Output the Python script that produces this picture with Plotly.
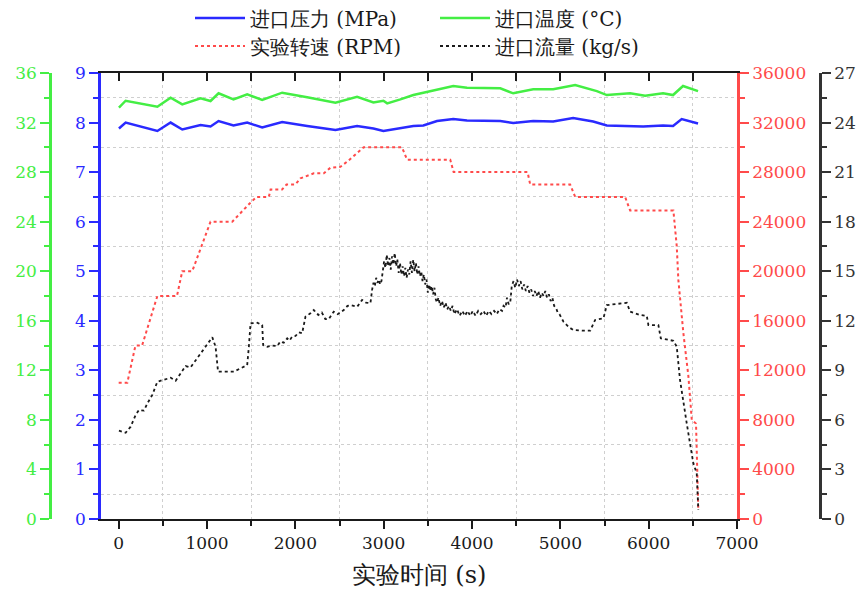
import plotly.graph_objects as go

# ---------------- data ----------------
t_pressure = [3, 79, 438, 588, 720, 927, 1040, 1131, 1300, 1455, 1625, 1851, 2134, 2454, 2699, 2884,
              2997, 3189, 3336, 3449, 3604, 3788, 3943, 4320, 4467, 4693, 4919, 5145, 5372, 5526,
              5752, 5937, 6163, 6276, 6374, 6468, 6559]
pressure = [7.88, 8.00, 7.83, 8.00, 7.86, 7.95, 7.92, 8.03, 7.94, 8.00, 7.90, 8.01, 7.93, 7.85, 7.93, 7.88,
            7.83, 7.88, 7.93, 7.94, 8.03, 8.07, 8.04, 8.03, 7.99, 8.03, 8.02, 8.09, 8.02, 7.94,
            7.93, 7.92, 7.94, 7.93, 8.07, 8.03, 7.98]

t_temp = [3, 79, 438, 588, 720, 927, 1040, 1131, 1300, 1455, 1625, 1851, 2134, 2454, 2699, 2884,
          2997, 3040, 3189, 3336, 3449, 3604, 3788, 3943, 4320, 4467, 4693, 4919, 5168, 5413,
          5526, 5790, 5960, 6163, 6276, 6389, 6559]
temperature = [33.2, 33.76, 33.28, 34.0, 33.47, 33.95, 33.74, 34.36, 33.87, 34.28, 33.82, 34.41, 34.04,
               33.6, 34.08, 33.63, 33.76, 33.55, 33.87, 34.22, 34.41, 34.68, 34.95, 34.81, 34.76, 34.36,
               34.68, 34.68, 35.03, 34.54, 34.22, 34.36, 34.17, 34.36, 34.22, 34.95, 34.54]

t_rpm = [0, 98, 190, 265, 438, 660, 720, 833, 1040, 1286, 1474, 1560, 1700, 1720, 1850, 1900, 2000,
         2058, 2209, 2322, 2397, 2510, 2586, 2774, 3208, 3265, 3754, 3792, 4629, 4659, 5111, 5168,
         5733, 5790, 6280, 6318, 6336, 6393, 6450, 6488, 6536, 6544, 6562]
rpm = [11000, 11000, 14000, 14000, 18000, 18000, 20000, 20000, 24000, 24000, 25400, 26000, 26000,
       26600, 26600, 27000, 27000, 27500, 27900, 27900, 28350, 28430, 28840, 30000, 30000, 29000,
       29000, 28000, 28000, 27000, 27000, 26000, 26000, 24900, 24900, 22000, 19300, 15000, 11500,
       8000, 7700, 5300, 700]

t_flow = [3, 79, 136, 192, 230, 286, 325, 381, 438, 512, 588, 645, 701, 758, 814, 871, 927, 984,
          1060, 1097, 1116, 1125, 1191, 1304, 1380, 1455, 1474, 1493, 1568, 1625, 1636, 1682, 1740,
          1795, 1830, 1869, 1908, 1935, 1964, 2002, 2040, 2077, 2115, 2171, 2209, 2260, 2300, 2340,
          2378, 2435, 2480, 2548, 2590, 2624, 2700, 2756, 2800, 2850,
          2870, 2885, 2900, 2915, 2930, 2945, 2960, 2975, 2990, 3005, 3020, 3035, 3050, 3065, 3080,
          3095, 3110, 3125, 3140, 3155, 3170, 3185, 3200, 3215, 3230, 3245, 3260, 3275, 3290, 3305,
          3320, 3335, 3350, 3365, 3380, 3395, 3410, 3425, 3440, 3455, 3470, 3485, 3500, 3515, 3530,
          3545, 3560, 3575, 3590, 3605, 3620, 3640, 3660, 3680, 3700, 3720, 3740, 3760, 3780, 3800,
          3830, 3860, 3890, 3920, 3950, 3980, 4010, 4040, 4070, 4100, 4130, 4160, 4190, 4220, 4250,
          4280, 4310, 4340, 4357, 4380, 4396, 4415, 4433, 4450, 4470, 4490, 4510, 4530, 4550, 4570,
          4590, 4610, 4630, 4650, 4670, 4690, 4710, 4730, 4750, 4770, 4790, 4810, 4830, 4850, 4870,
          4890, 4910, 4930, 4950, 4970, 4990, 5036, 5100, 5149, 5250, 5338, 5394, 5488, 5526, 5639,
          5752, 5790, 5903, 5979, 5997, 6110, 6137, 6280, 6318, 6355, 6393, 6431, 6468, 6506, 6544,
          6556, 6562]
flow = [5.35, 5.22, 5.59, 6.30, 6.60, 6.56, 7.00, 7.51, 8.31, 8.41, 8.55, 8.37, 8.82, 9.26, 9.18, 9.62,
        10.03, 10.43, 11.0, 10.43, 9.62, 8.92, 8.92, 8.92, 9.12, 9.32, 10.43, 11.85, 11.88, 11.74,
        10.53, 10.43, 10.50, 10.47, 10.75, 10.67, 10.94, 10.80, 11.04, 11.08, 11.30, 11.24, 12.25,
        12.45, 12.65, 12.35, 12.50, 12.10, 12.09, 12.55, 12.40, 12.65, 12.90, 12.95, 12.85, 13.26,
        13.10, 13.06,
        13.9, 14.3, 14.1, 14.6, 14.3, 14.5, 14.2, 14.4, 15.0, 15.6, 15.2, 16.0, 15.3, 15.8, 15.1,
        15.9, 15.4, 16.1, 15.3, 15.7, 14.9, 15.5, 14.8, 15.3, 14.7, 15.2, 14.6, 15.1, 14.8, 15.6,
        14.9, 15.7, 15.0, 15.5, 14.8, 15.3, 14.7, 15.0, 14.4, 14.8, 14.2, 14.5, 13.7, 14.2, 13.8,
        14.1, 13.6, 14.0, 13.3, 13.1, 13.4, 12.9, 13.2, 12.8, 13.1, 12.7, 12.9, 12.6, 12.9, 12.4,
        12.7, 12.3, 12.6, 12.3, 12.6, 12.3, 12.6, 12.3, 12.6, 12.4, 12.6, 12.3, 12.6, 12.4, 12.6,
        12.4, 12.7, 12.6, 12.9, 12.8, 13.4, 13.0, 13.1, 14.1, 14.4, 14.0, 14.5, 14.1, 14.4, 13.9,
        14.2, 13.8, 14.1, 13.7, 13.9, 13.5, 13.8, 13.5, 13.8, 13.4, 13.7, 13.5, 13.8, 13.4, 13.6,
        13.2, 13.4, 12.9, 12.8, 12.5, 12.4, 11.94, 11.6, 11.44, 11.40, 11.40, 12.05, 12.15, 12.95,
        13.01, 13.09, 12.55, 12.35, 12.29, 11.74, 11.74, 10.94, 10.79, 10.43, 8.41, 7.00, 5.79, 4.58,
        3.37, 2.77, 1.15, 0.55]

x_ticks = [0, 1000, 2000, 3000, 4000, 5000, 6000, 7000]

# ---------------- styling ----------------
FONT = "DejaVu Serif"
BLUE = "#2a2aff"
GREEN = "#44ee44"
RED = "#ff4a4a"
BLACK = "#1a1a1a"
GRID = "#cfcfcf"

# the page draws the figure with an 8 px body margin: work in page pixels minus 8
OFF = 8
FIG_W, FIG_H = 865 - OFF, 603 - OFF
L, R = 2, 2
W = FIG_W - L - R
PL, PR, PT, PB = 101 - OFF, 737 - OFF, 73 - OFF, 519 - OFF
dom = [(PL - L) / W, (PR - L) / W]
PH = PB - PT

fig = go.Figure()
fig.add_trace(go.Scatter(x=t_pressure, y=pressure, mode="lines", name="进口压力 (MPa)",
                         line=dict(color=BLUE, width=2.5), yaxis="y", legend="legend"))
fig.add_trace(go.Scatter(x=t_temp, y=temperature, mode="lines", name="进口温度 (°C)",
                         line=dict(color=GREEN, width=2.5), yaxis="y2", legend="legend"))
fig.add_trace(go.Scatter(x=t_rpm, y=rpm, mode="lines", name="实验转速 (RPM)",
                         line=dict(color=RED, width=2, dash="dot"), yaxis="y3", legend="legend2"))
fig.add_trace(go.Scatter(x=t_flow, y=flow, mode="lines", name="进口流量 (kg/s)",
                         line=dict(color=BLACK, width=1.8, dash="dot"), yaxis="y4", legend="legend2"))
# dummy trace so that the top (mirror) axis is drawn
fig.add_trace(go.Scatter(x=[None], y=[None], xaxis="x2", yaxis="y", showlegend=False,
                         hoverinfo="skip"))

tickfont = dict(family=FONT, size=17)


def yax(color, rng, dtick, mtick0, mdtick, **kw):
    d = dict(range=rng, dtick=dtick, tick0=0, showgrid=False, zeroline=False, showline=True,
             linecolor=color, linewidth=2.5, ticks="outside", ticklen=9, tickwidth=2,
             tickcolor=color, tickfont=dict(tickfont, color=color), automargin=False,
             tickformat="d",
             minor=dict(dtick=mdtick, tick0=mtick0, ticks="outside", ticklen=5, tickwidth=2,
                        tickcolor=color, showgrid=False))
    d.update(kw)
    return d


fig.update_layout(
    width=FIG_W, height=FIG_H,
    margin=dict(l=L, r=R, t=PT, b=FIG_H - PB, autoexpand=False),
    paper_bgcolor="white", plot_bgcolor="white",
    font=dict(family=FONT, size=17, color=BLACK),
    xaxis=dict(domain=dom, range=[-200, 7000], tickvals=x_ticks, showline=True, linecolor=BLACK,
               linewidth=2, ticks="outside", ticklen=8, tickwidth=2, tickcolor=BLACK,
               showgrid=False, zeroline=False, tickfont=tickfont, automargin=False,
               minor=dict(dtick=1000, tick0=500, ticks="outside", ticklen=5, tickwidth=2,
                          tickcolor=BLACK, showgrid=True, gridcolor=GRID, griddash="dot",
                          gridwidth=1.2),
               title=dict(text="实验时间 (s)", font=dict(family=FONT, size=24, color=BLACK),
                          standoff=14)),
    xaxis2=dict(overlaying="x", side="top", anchor="y", domain=dom, range=[-200, 7000],
                dtick=1000, tick0=0, showline=True, linecolor=BLACK, linewidth=2,
                ticks="inside", ticklen=8, tickwidth=2, tickcolor=BLACK, showticklabels=False,
                showgrid=False, zeroline=False, automargin=False,
                minor=dict(dtick=1000, tick0=500, ticks="inside", ticklen=8, tickwidth=2,
                           tickcolor=BLACK, showgrid=False)),
    yaxis=yax(BLUE, [0, 9], 1, 0.5, 1, anchor="x", side="left",
              minor=dict(dtick=1, tick0=0.5, ticks="outside", ticklen=5, tickwidth=2,
                         tickcolor=BLUE, showgrid=True, gridcolor=GRID, griddash="dot",
                         gridwidth=1.2)),
    yaxis2=yax(GREEN, [0, 36], 4, 2, 4, overlaying="y", anchor="free", side="left",
               position=(50 - OFF - L) / W),
    yaxis3=yax(RED, [0, 36000], 4000, 2000, 4000, overlaying="y", anchor="x", side="right"),
    yaxis4=yax("#333333", [0, 27], 3, 1.5, 3, overlaying="y", anchor="free", side="right",
               position=(820 - OFF - L) / W),
    legend=dict(orientation="h", x=(190 - OFF - L) / W, xanchor="left",
                y=1 + (PT - (18 - OFF)) / PH, yanchor="middle",
                font=dict(family=FONT, size=20, color=BLACK),
                entrywidth=180, bgcolor="rgba(0,0,0,0)", itemwidth=50),
    legend2=dict(orientation="h", x=(190 - OFF - L) / W, xanchor="left",
                 y=1 + (PT - (46 - OFF)) / PH, yanchor="middle",
                 font=dict(family=FONT, size=20, color=BLACK),
                 entrywidth=180, bgcolor="rgba(0,0,0,0)", itemwidth=50),
    showlegend=True,
)

fig.write_html("out.html")
